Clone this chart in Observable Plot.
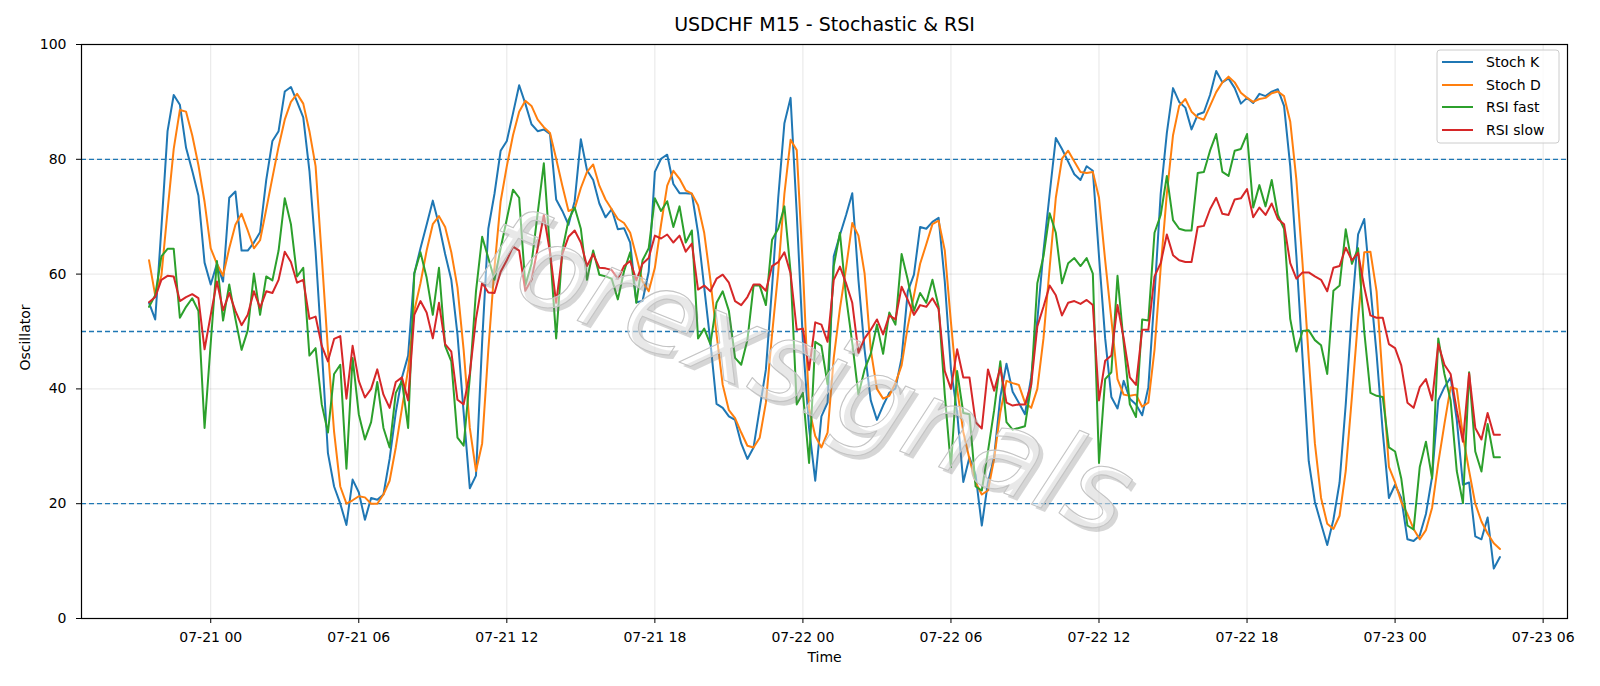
<!DOCTYPE html>
<html><head><meta charset="utf-8">
<script src="https://cdn.jsdelivr.net/npm/d3@7"></script>
<script src="https://cdn.jsdelivr.net/npm/@observablehq/plot@0.6"></script>
<style>body{margin:0;background:#fff;}</style>
</head><body><div id="chart"></div>
<script>
const titleText = "USDCHF M15 - Stochastic & RSI";
const startTime = "2025-07-20T21:30:00Z";
const stepMinutes = 15;
const seriesNames = ["Stoch K", "Stoch D", "RSI fast", "RSI slow"];
const seriesColors = ["#1f77b4", "#ff7f0e", "#2ca02c", "#d62728"];
const yTicks = [0, 20, 40, 60, 80, 100];
const levels = [20, 50, 80];

const stochK = [
55,52.1,68,84.9,91.2,89.5,82,78,73.7,62,
58.2,61.8,58.7,73.3,74.4,64.1,64.1,65.5,67.3,76.4,
83.2,84.9,91.8,92.6,90,87.3,78,64,47,28.8,
23,20,16.3,24.2,22,17.2,21,20.7,21.6,27.8,
35.9,42,45.8,60.1,64.5,68.6,72.8,68.6,63.5,59,
49.5,35.9,22.7,24.9,48.2,67.9,74,81.5,83.2,88,
92.9,89.7,86.1,84.9,85.2,84.4,73,71,68.6,72.7,
83.5,78.1,76.4,72.3,69.9,71.3,67.8,68,65.5,55.1,
55.3,60.4,77.8,80.1,80.8,75.7,74.1,74.1,74,67.2,
57.7,48.2,37.4,36.7,35.2,34.6,30.5,27.8,29.8,36.6,
43.4,57.7,73.3,86.3,90.7,70.6,48.2,33.2,24,35.2,
37.6,63.1,66.8,70.3,74.1,59,46.8,38,34.6,37.1,
39.3,40.1,45.4,57,59.9,68.2,67.9,69.1,69.8,58.7,
43.4,35.9,23.8,28.1,25,16.2,23.7,28.1,38.6,44.4,
39.5,37.6,35.6,42,52,64,74,83.7,81.8,79.6,
77.4,76.4,78.8,78,63.1,48.8,38.6,36.6,41.4,38.3,
37.3,35.4,40.3,56.3,74,84.6,92.4,90,89,85.2,
87.8,88.2,91.2,95.4,93.4,94.1,92.4,89.7,90.7,89.8,
91.4,91,91.8,92.2,89.3,78.8,63.1,45.4,27.4,20.3,
16.5,12.8,17.2,23.7,37.3,53.6,66.9,69.6,57.7,46.1,
32.5,21,23.3,21,13.8,13.5,14.5,18.2,24.7,38,
40.3,42,34.6,23.3,23.7,14.3,13.8,17.6,8.7,10.7];

const stochD = [
62.4,56.3,59.7,71,81.8,88.6,88.3,84.2,79,72.6,
64.5,61.8,59.7,64.5,68.6,70.5,67.6,64.5,65.9,71.3,
76.8,82.2,86.9,90,91.4,89.7,84.9,78.8,63,46.8,
32.5,23,20,20.6,21.3,21.1,20,20,21.6,24,
29.8,36.6,43.4,53.6,58.4,64.1,68.7,70.1,68.2,63.8,
57.7,46.8,33.2,25.7,30.5,46.8,61.1,72.7,78.8,84.2,
88.3,90.2,89.3,86.9,85.6,84.6,80.1,75.4,71,71.4,
75,77.8,79.1,75.4,73,71.3,69.6,68.9,67.2,63.1,
58.7,57,61.1,68.6,75.4,78,76.6,74.6,74,72,
67.2,59,49.5,40.7,36.3,34.9,32.4,30.1,29.8,31.5,
37.6,49.5,60.4,74,83.4,81.6,61.1,36.6,31.8,29.8,
32.4,45.4,54,61.1,68.9,66.7,60.1,46.8,40,38.3,
38.8,41,44.1,50.9,56.3,61.8,65.2,68.7,69.3,64.1,
51.6,40,32.5,27.8,23.7,21.6,22.3,27.8,35.9,41.4,
41,40.7,37.6,36.7,40,48.8,61.1,73.3,80.1,81.5,
79.6,77.8,77.6,77.8,73.3,62.4,52.2,41.7,39,38.8,
39,36.9,37.6,46.8,61.1,74,84.2,89.3,90.5,88.3,
87.3,86.9,89.3,91.7,93.4,94.4,93.4,91.6,90.7,90,
90.5,90.7,91.5,91.8,91,86.6,76.4,61.8,45.4,30.5,
21,16.5,15.6,17.9,25.7,38.6,52.2,63.8,63.9,57,
41.4,26.4,23.7,20.3,18.2,15.6,13.8,15.4,19.3,27.1,
33.9,40.3,40,31.8,25.7,20,16.9,14.8,13.1,12.1];

const rsiFast = [
54.3,56.3,63.1,64.4,64.4,52.4,54.3,55.8,53.6,33.2,
48,62.3,51.9,58.2,52.2,46.8,50.2,60.1,52.9,59.6,
58.9,64.1,73.2,68.7,59.6,61.1,45.8,47.1,37.3,32.4,
42.6,44.2,26.1,45.4,35.6,31.2,34.2,41.2,33.2,29.8,
39.3,41.4,33.2,60.1,63.8,59.4,52.9,61.1,47.5,44.8,
31.5,30.1,42,57,66.5,62.8,59,64.5,69.6,74.7,
73.3,58,61.8,70.6,79.3,64.1,48.8,64.1,69.4,71.6,
67.9,59,64.1,59.9,59.6,59.2,55.6,60.5,63.8,55,
62.4,64.5,73.2,71,72.7,68.2,71.8,65.5,67.6,48.8,
50.5,47.8,55,57,53.6,45.4,44.2,48.5,58,58,
54.6,66,67.9,71.8,60.4,37.3,39.3,27.1,48.2,47.5,
40.8,61.4,67.2,56,48,39,43.4,46.1,51.2,46.1,
53.3,51.2,63.5,59,53.6,56.7,55,59,54.3,39,
26.4,43.1,35.8,35.6,23,22.3,29.1,36.3,44.8,34.2,
32.9,33.2,33.5,40.7,58.4,63.1,70.6,67.2,58.4,61.9,
62.8,61.4,62.8,60.1,27.1,41.7,42.9,59.7,48,37.3,
35.1,52.1,51.9,67.2,70.3,77.1,69.4,67.9,67.6,67.6,
77.6,77.8,81.5,84.4,77.8,77.1,81.5,81.8,84.4,71.6,
75.5,71.8,76.4,70.3,67.9,52.2,46.5,50.1,50.2,48.5,
47.6,42.6,57.1,58,67.8,61.8,64.5,50,39.3,38.8,
38.6,29.8,29.1,24.4,16.2,15.5,26.4,30.8,24.4,48.8,
42.6,38,25.7,20.1,42.9,29.1,25.6,33.9,28.1,28.1];

const rsiSlow = [
55.1,56,59,59.7,59.6,55.3,56,56.5,55.8,46.9,
52.9,58.7,53.7,56.7,53.6,51.1,52.9,57,54.1,57,
56.7,59,63.9,62.1,58.5,59,52.2,52.6,47.5,44.8,
48.7,49.2,38.3,47.5,41.4,38.5,40,43.4,39,36.7,
41.2,42,38,52.9,55.3,53.3,48.8,55,47.8,46.5,
38.1,37.3,42.7,52.2,58.5,56.8,56.7,60.4,62.4,64.8,
64.1,57.1,59,64.5,70.3,63.8,55,63.5,66.5,67.6,
65.5,61.4,63.5,61.1,61,60.7,59.2,61.4,62.3,58.9,
61.8,62.8,66.7,66.2,66.9,65.5,66.7,63.9,65.3,57.3,
58,57,59.2,59.9,58.5,55.3,54.6,56,58.2,58.2,
57.1,61.4,62.1,63.8,60.1,50.3,50.5,43.3,51.6,51.2,
48.2,59,61.3,58.4,55,46.3,48.8,50.3,52.1,49.5,
52.8,52.1,57.8,55.5,52.9,54.6,54.3,55.8,53.9,43.1,
40,46.9,42,42,34.2,33.1,43.4,39.7,43.7,37.6,
37.1,37.3,37.3,40.7,50.9,54.3,58,56.3,52.8,55,
55.3,54.8,55.5,54.6,38,44.9,45.8,54.6,48.8,42,
40.7,50.3,50.3,59.6,61.9,66.9,63.3,62.4,62.1,62.1,
68.2,68.4,71.3,73.3,70.5,70.3,73,73.2,74.8,69.9,
71.6,70.3,72.3,69.6,68.7,61.9,59.2,60.3,60.3,59.6,
59,57,61.1,61.4,64.6,62.4,63.7,57.7,52.8,52.4,
52.4,47.8,47.1,44.1,37.6,36.7,40.3,41.7,38,47.8,
44.2,42.6,36.3,30.8,42.7,33.2,31.2,35.8,32,32];

const t0 = new Date(startTime);
const times = stochK.map((_, i) => new Date(+t0 + i * stepMinutes * 60000));
const rows = [];
[stochK, stochD, rsiFast, rsiSlow].forEach((arr, s) =>
  arr.forEach((v, i) => rows.push({t: times[i], v, series: seriesNames[s]})));
const span = times[times.length - 1] - times[0];
const xDomain = [new Date(+times[0] - 0.05 * span), new Date(+times[times.length - 1] + 0.05 * span)];
const sixHours = d3.utcHour.every(6);
const fmt = d3.utcFormat("%m-%d %H");
const font = "'DejaVu Sans', 'Liberation Sans', sans-serif";

const plot = Plot.plot({
  width: 1600, height: 686,
  marginLeft: 81, marginRight: 33, marginTop: 44, marginBottom: 68,
  style: {fontFamily: font, fontSize: "14px", background: "#fff", color: "#000"},
  x: {type: "utc", domain: xDomain},
  y: {domain: [0, 100]},
  color: {domain: seriesNames, range: seriesColors},
  marks: [
    Plot.gridY(yTicks, {stroke: "#000", strokeOpacity: 0.1}),
    Plot.gridX({ticks: sixHours, stroke: "#000", strokeOpacity: 0.1}),
    Plot.ruleY(levels, {stroke: "#1f77b4", strokeDasharray: "5,3", strokeWidth: 1.3}),
    Plot.line(rows, {x: "t", y: "v", z: "series", stroke: "series", strokeWidth: 2}),
    Plot.text(["forexsignals"], {frameAnchor: "middle", dx: -15, dy: 46, rotate: 22, fontSize: 114,
      fontStyle: "italic", fontWeight: 200, fill: "#777", fillOpacity: 0.3, stroke: "none"}),
    Plot.text(["forexsignals"], {frameAnchor: "middle", dx: -19, dy: 42, rotate: 22, fontSize: 114,
      fontStyle: "italic", fontWeight: 200, fill: "#fff", fillOpacity: 0.45, stroke: "#c4c4c4", strokeWidth: 1.1, paintOrder: "normal"}),
    Plot.frame({stroke: "#000", strokeWidth: 1.2}),
    Plot.axisY(yTicks, {tickSize: 5, tickPadding: 10, label: null, fontSize: 14}),
    Plot.axisX({ticks: sixHours, tickFormat: fmt, tickSize: 5, tickPadding: 9, label: null, fontSize: 14}),
    Plot.text([titleText], {frameAnchor: "top", dy: -27, fontSize: 19, fill: "#000"}),
    Plot.text(["Time"], {frameAnchor: "bottom", dy: 43, fontSize: 14, fill: "#000"}),
    Plot.text(["Oscillator"], {frameAnchor: "left", textAnchor: "middle", dx: -56, dy: 6, rotate: -90, fontSize: 14, fill: "#000"})
  ]
});
document.getElementById("chart").appendChild(plot);

// legend
const svg = d3.select(plot);
const lg = svg.append("g").attr("font-family", font).attr("font-size", 14).attr("text-anchor", "start");
lg.append("rect").attr("x", 1437).attr("y", 50).attr("width", 122).attr("height", 93)
  .attr("rx", 3).attr("fill", "#fff").attr("fill-opacity", 0.8).attr("stroke", "#ccc");
const rowsY = [62, 85, 107, 130];
seriesNames.forEach((name, i) => {
  lg.append("line").attr("x1", 1442).attr("x2", 1473).attr("y1", rowsY[i]).attr("y2", rowsY[i])
    .attr("stroke", seriesColors[i]).attr("stroke-width", 2);
  lg.append("text").attr("x", 1486).attr("y", rowsY[i]).attr("dy", "0.35em")
    .attr("text-anchor", "start").attr("fill", "#000").text(name);
});
</script>
</body></html>
